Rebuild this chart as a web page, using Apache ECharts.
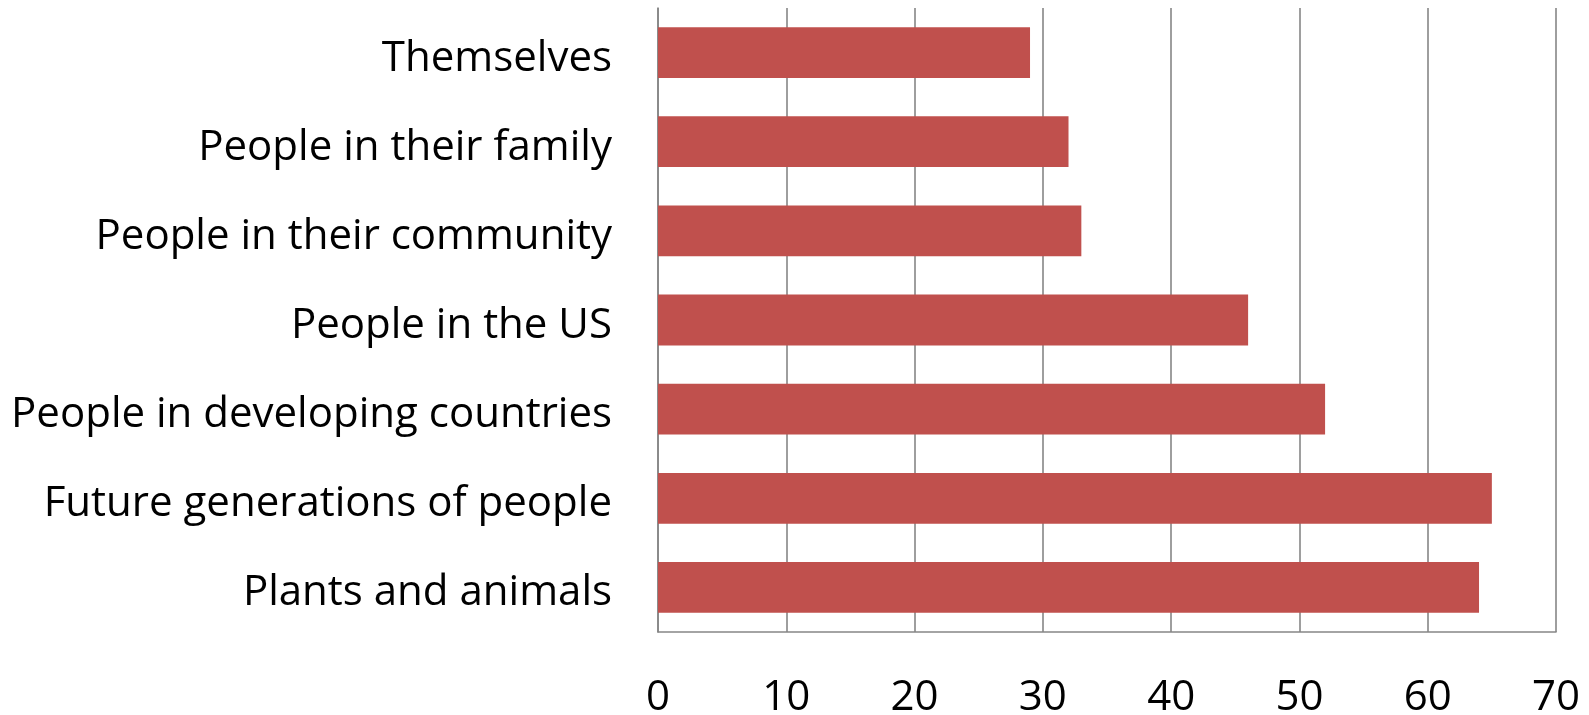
<!DOCTYPE html>
<html>
<head>
<meta charset="utf-8">
<script src="https://cdn.jsdelivr.net/npm/echarts@6/dist/echarts.min.js"></script>
<style>html,body{margin:0;padding:0;background:#fff}#c{width:1589px;height:715px}</style>
</head>
<body>
<div id="c"></div>
<script>
const categories = ["Themselves","People in their family","People in their community","People in the US","People in developing countries","Future generations of people","Plants and animals"];
const values = [29, 32, 33, 46, 52, 65, 64];
const xTicks = [0, 10, 20, 30, 40, 50, 60, 70];

const FONT = "Open Sans";
const chart = echarts.init(document.getElementById('c'), null, {renderer: 'canvas'});
chart.setOption({
  animation: false,
  backgroundColor: '#ffffff',
  grid: {left: 658, right: 33, top: 8, bottom: 83, containLabel: false, outerBoundsMode: 'none'},
  xAxis: {
    type: 'value', min: xTicks[0], max: xTicks[xTicks.length - 1], interval: 10,
    axisLine: {show: true, lineStyle: {color: '#868686', width: 1.6}},
    axisTick: {show: false},
    splitLine: {show: true, lineStyle: {color: '#868686', width: 1.6}},
    axisLabel: {color: '#000', fontFamily: FONT, fontSize: 42, margin: 45}
  },
  yAxis: {
    type: 'category', data: categories, inverse: true,
    axisLine: {show: true, lineStyle: {color: '#868686', width: 1.6}},
    axisTick: {show: false},
    axisLabel: {color: '#000', fontFamily: FONT, fontSize: 42, margin: 46, verticalAlign: 'top', lineHeight: 12}
  },
  series: [{
    type: 'bar', data: values, barCategoryGap: '43%',
    itemStyle: {color: '#C0504D'}
  }]
});
</script>
</body>
</html>
